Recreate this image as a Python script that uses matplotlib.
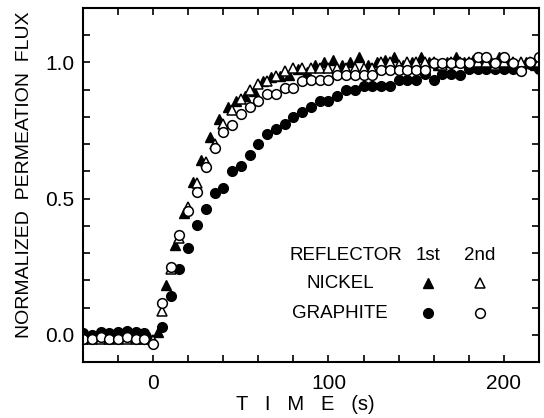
import numpy as np
import matplotlib
matplotlib.use('Agg')
import matplotlib.pyplot as plt
from matplotlib.ticker import MultipleLocator

plt.rcParams['font.family'] = ['Liberation Sans', 'DejaVu Sans']

# nickel reflector, 1st run (filled triangles)
t_ni1 = [-37.5, -32.5, -27.5, -22.5, -17.5, -12.5, -7.5, -2.5, 2.5, 7.5, 12.5, 17.5, 22.5, 27.5,
         32.5, 37.5, 42.5, 47.5, 52.5, 57.5, 62.5, 67.5, 72.5, 77.5, 82.5, 87.5, 92.5, 97.5,
         102.5, 107.5, 112.5, 117.5, 122.5, 127.5, 132.5, 137.5, 142.5, 147.5, 152.5, 157.5,
         162.5, 167.5, 172.5, 177.5, 182.5, 187.5, 192.5, 197.5, 202.5, 207.5, 212.5, 217.5]
v_ni1 = [-0.01, -0.01, -0.01, -0.01, -0.01, -0.01, -0.01, -0.01, 0.01, 0.184, 0.33, 0.447, 0.56, 0.64,
         0.726, 0.793, 0.836, 0.86, 0.875, 0.895, 0.93, 0.948, 0.95, 0.955, 0.975, 0.965, 0.99, 1.0,
         1.01, 0.99, 1.0, 1.02, 0.99, 1.0, 1.01, 1.02, 0.99, 1.0, 1.02, 1.0,
         0.99, 1.0, 1.02, 1.0, 1.01, 0.99, 1.0, 1.02, 1.0, 0.99, 1.0, 0.99]

# nickel reflector, 2nd run (open triangles)
t_ni2 = [-40, -35, -30, -25, -20, -15, -10, -5, 0, 5, 10, 15, 20, 25, 30, 35, 40, 45, 50, 55, 60,
         65, 70, 75, 80, 85, 90, 95, 100, 105, 110, 115, 120, 125, 130, 135, 140, 145, 150, 155,
         160, 165, 170, 175, 180, 185, 190, 195, 200, 205, 210, 215, 220]
v_ni2 = [-0.015, -0.015, -0.015, -0.015, -0.015, -0.015, -0.015, -0.015, -0.02, 0.087, 0.243, 0.356,
         0.47, 0.558, 0.635, 0.70, 0.775, 0.824, 0.866, 0.90, 0.92, 0.933, 0.951, 0.97, 0.98,
         0.98, 0.98, 0.98, 0.98, 0.98, 0.98, 0.98, 0.98, 0.98, 1.0, 1.0, 0.99, 1.0, 1.0, 1.0,
         1.0, 0.99, 1.0, 1.0, 1.0, 1.0, 1.0, 0.99, 1.0, 1.0, 1.0, 1.0, 1.0]

# graphite reflector, 1st run (filled circles)
t_gr1 = [-40, -35, -30, -25, -20, -15, -10, -5, 5, 10, 15, 20, 25, 30, 35, 40, 45, 50, 55, 60,
         65, 70, 75, 80, 85, 90, 95, 100, 105, 110, 115, 120, 125, 130, 135, 140, 145, 150, 155,
         160, 165, 170, 175, 180, 185, 190, 195, 200, 205, 210, 215, 220]
v_gr1 = [0.005, 0.0, 0.01, 0.005, 0.01, 0.015, 0.01, 0.005, 0.027, 0.142, 0.242, 0.32, 0.404, 0.462,
         0.52, 0.54, 0.60, 0.62, 0.66, 0.70, 0.738, 0.757, 0.775, 0.80, 0.817, 0.836, 0.858, 0.858,
         0.878, 0.897, 0.897, 0.915, 0.915, 0.915, 0.915, 0.937, 0.937, 0.937, 0.958, 0.937, 0.958,
         0.958, 0.954, 0.976, 0.976, 0.976, 0.976, 0.976, 0.976, 0.976, 0.994, 0.976]

# graphite reflector, 2nd run (open circles)
t_gr2 = [-40, -35, -30, -25, -20, -15, -10, -5, 0, 5, 10, 15, 20, 25, 30, 35, 40, 45, 50, 55, 60,
         65, 70, 75, 80, 85, 90, 95, 100, 105, 110, 115, 120, 125, 130, 135, 140, 145, 150, 155,
         160, 165, 170, 175, 180, 185, 190, 195, 200, 205, 210, 215, 220]
v_gr2 = [-0.015, -0.015, -0.01, -0.015, -0.015, -0.01, -0.015, -0.015, -0.035, 0.115, 0.25, 0.367,
         0.456, 0.525, 0.617, 0.684, 0.744, 0.772, 0.81, 0.838, 0.86, 0.885, 0.885, 0.906, 0.906,
         0.93, 0.936, 0.936, 0.936, 0.954, 0.954, 0.954, 0.954, 0.954, 0.973, 0.973, 0.973, 0.973,
         0.973, 0.973, 0.998, 0.998, 0.998, 0.998, 0.998, 1.02, 1.02, 0.998, 1.02, 0.998, 0.97,
         1.0, 1.02]

fig = plt.figure(figsize=(5.44, 4.18), dpi=100)
ax = fig.add_axes([0.1526, 0.134, 0.838, 0.847])

ms = 7
ax.plot(t_gr1, v_gr1, 'o', color='black', markersize=ms, linestyle='none')
ax.plot(t_ni1, v_ni1, '^', color='black', markersize=ms + 0.5, linestyle='none')
ax.plot(t_ni2, v_ni2, '^', markerfacecolor='white', markeredgecolor='black', markeredgewidth=1.1,
        markersize=ms + 0.5, linestyle='none')
ax.plot(t_gr2, v_gr2, 'o', markerfacecolor='white', markeredgecolor='black', markeredgewidth=1.1,
        markersize=ms, linestyle='none')

ax.set_xlim(-40, 220)
ax.set_ylim(-0.1, 1.2)
ax.xaxis.set_major_locator(MultipleLocator(100))
ax.xaxis.set_minor_locator(MultipleLocator(20))
ax.yaxis.set_major_locator(MultipleLocator(0.5))
ax.yaxis.set_minor_locator(MultipleLocator(0.1))
ax.yaxis.set_major_formatter(plt.FormatStrFormatter('%.1f'))
ax.tick_params(which='both', direction='in', top=True, right=True, length=5, width=1.2,
               labelsize=15)
ax.tick_params(axis='x', pad=9)
ax.tick_params(axis='y', pad=6)
for s in ax.spines.values():
    s.set_linewidth(1.5)

ax.set_xlabel('T   I   M   E   (s)', fontsize=14.5)
ax.xaxis.set_label_coords(0.487, -0.093)
ax.set_ylabel('NORMALIZED  PERMEATION  FLUX', fontsize=14)
ax.yaxis.set_label_coords(-0.110, 0.528)

# legend drawn as a small table
tf = ax.transAxes
fs = 13.5
ax.text(0.454, 0.302, 'REFLECTOR', transform=tf, fontsize=fs, va='center', ha='left')
ax.text(0.757, 0.302, '1st', transform=tf, fontsize=fs, va='center', ha='center')
ax.text(0.871, 0.302, '2nd', transform=tf, fontsize=fs, va='center', ha='center')
ax.text(0.564, 0.223, 'NICKEL', transform=tf, fontsize=fs, va='center', ha='center')
ax.text(0.564, 0.138, 'GRAPHITE', transform=tf, fontsize=fs, va='center', ha='center')
ax.plot([0.757], [0.223], '^', color='black', markersize=ms + 0.5, transform=tf)
ax.plot([0.871], [0.223], '^', markerfacecolor='white', markeredgecolor='black',
        markeredgewidth=1.1, markersize=ms + 0.5, transform=tf)
ax.plot([0.757], [0.138], 'o', color='black', markersize=ms, transform=tf)
ax.plot([0.871], [0.138], 'o', markerfacecolor='white', markeredgecolor='black',
        markeredgewidth=1.1, markersize=ms, transform=tf)

fig.savefig('out.png', dpi=100)
